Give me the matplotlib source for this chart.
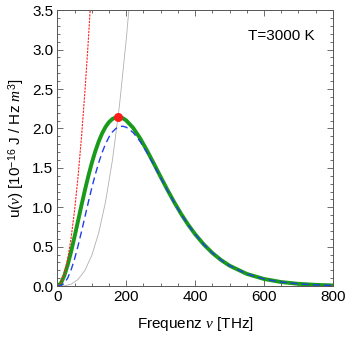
import matplotlib
matplotlib.use("Agg")
import matplotlib.pyplot as plt
from matplotlib.ticker import MultipleLocator

plt.rcParams["font.family"] = ["Liberation Sans", "DejaVu Sans"]
plt.rcParams["mathtext.fontset"] = "custom"
plt.rcParams["mathtext.rm"] = "Liberation Sans"
plt.rcParams["mathtext.it"] = "Liberation Serif:italic"

# frequency in THz, energy density in 1e-16 J/(Hz m^3), T = 3000 K
nu = [0, 10, 20, 30, 40, 50, 60, 70, 80, 90, 100, 110, 120, 130, 140, 150,
      160, 170, 180, 190, 200, 220, 240, 260, 280, 300, 320, 340, 360, 380,
      400, 425, 450, 475, 500, 550, 600, 650, 700, 750, 800]
planck = [0, 0.0356, 0.1311, 0.2709, 0.4412, 0.6303, 0.8282, 1.0266, 1.2185,
          1.3988, 1.5634, 1.7092, 1.8346, 1.9384, 2.0204, 2.0810, 2.1208,
          2.1412, 2.1435, 2.1296, 2.1009, 2.0072, 1.8766, 1.7222, 1.5552,
          1.3846, 1.2175, 1.0587, 0.9114, 0.7777, 0.6583, 0.5290, 0.4208,
          0.3316, 0.2592, 0.1550, 0.0904, 0.0517, 0.0290, 0.0160, 0.0087]
wien = [0, 0.0053, 0.0359, 0.1032, 0.2086, 0.3471, 0.5111, 0.6916, 0.8798,
        1.0674, 1.2477, 1.4152, 1.5656, 1.6962, 1.8053, 1.8922, 1.9568,
        2.0001, 2.0232, 2.0277, 2.0153, 1.9478, 1.8363, 1.6953, 1.5375,
        1.3732, 1.2102, 1.0541, 0.9086, 0.7759, 0.6572, 0.5284, 0.4204,
        0.3314, 0.2591, 0.1550, 0.0904, 0.0517, 0.0290, 0.0160, 0.0087]

nu_rj = [0, 10, 20, 30, 40, 50, 60, 70, 80, 90, 100]
rayleigh_jeans = [0, 0.0386, 0.1545, 0.3476, 0.618, 0.9656, 1.3905, 1.8926,
                  2.472, 3.1286, 3.8625]

nu_max = [0, 20, 40, 60, 80, 100, 120, 140, 160, 180, 200, 210, 220]
u_max = [0, 0.0031, 0.0250, 0.0845, 0.2003, 0.3912, 0.676, 1.0735, 1.6023,
         2.2815, 3.1296, 3.623, 4.166]

peak_nu = 176.3
peak_u = 2.1437

fig = plt.figure(figsize=(3.5, 3.39), dpi=100)
ax = fig.add_axes([0.164, 0.156, 0.787, 0.814])

ax.plot(nu_max, u_max, color="#b0b0b0", lw=0.6)
ax.plot(nu, planck, color="#1a9a1a", lw=2.8)
ax.plot(nu_rj, rayleigh_jeans, color="#ff2020", lw=0.8, dashes=(2, 1))
ax.plot(nu, wien, color="#2040e8", lw=1.0, dashes=(5, 3))
ax.plot([peak_nu], [peak_u], "o", color="#ff1a1a", ms=5.5, zorder=5)

ax.set_xlim(0, 800)
ax.set_ylim(0, 3.5)
ax.xaxis.set_major_locator(MultipleLocator(200))
ax.xaxis.set_minor_locator(MultipleLocator(50))
ax.yaxis.set_major_locator(MultipleLocator(0.5))
ax.yaxis.set_minor_locator(MultipleLocator(0.1))
ax.yaxis.set_major_formatter(plt.FuncFormatter(lambda v, p: f"{v:.1f}"))
ax.tick_params(which="both", direction="in", top=True, right=True,
               labelsize=11, color="#555555", width=0.6, pad=3)
ax.tick_params(which="major", length=4)
ax.tick_params(which="minor", length=2)
for s in ax.spines.values():
    s.set_color("#555555")
    s.set_linewidth(0.7)

ax.set_xlabel(r"Frequenz $\nu$ [THz]", fontsize=11, labelpad=8)
ax.set_ylabel(r"u($\nu$) [10$^{-16}$ J / Hz $m^3$]", fontsize=11, labelpad=4)
ax.text(0.935, 0.93, "T=3000 K", transform=ax.transAxes, ha="right",
        va="top", fontsize=11)

fig.savefig("out.png", dpi=100)
